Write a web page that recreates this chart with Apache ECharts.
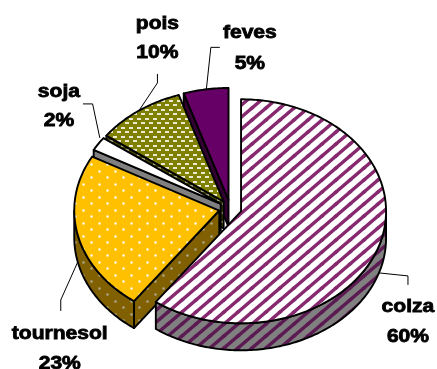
<!DOCTYPE html>
<html>
<head>
<meta charset="utf-8">
<style>html,body{margin:0;padding:0;background:#fff;overflow:hidden}#c{width:437px;height:369px}</style>
<script src="https://cdn.jsdelivr.net/npm/echarts@6/dist/echarts.min.js"></script>
</head>
<body>
<div id="c"></div>
<script>
var categories = ['colza', 'tournesol', 'soja', 'pois', 'feves'];
var values = [60, 23, 2, 10, 5];

// Pie geometry
var C = { x: 230.3, y: 208.6, rx: 145, ry: 112, depth: 27, explode: 0.078 };

// Label layout, relative to each slice's mid-arc anchor
var leaderOffsets = [
  [[0, 0], [29, 3], [29, 12]],
  [[0, 0], [-17, 38], [-17, 49]],
  [[1.5, -6], [-5.7, -40], [-15.4, -40]],
  [[1, -1], [19, -28], [19, -37]],
  [[0.5, 0], [5, -42], [14, -42]]
];
var labelOffsets = [
  [29, 34.4, 64.4],
  [-18, 72, 102],
  [-39.4, -52, -23],
  [19, -87, -58],
  [44, -56.4, -25.6]
];

function tile(w, h, bg, draw) {
  var c = document.createElement('canvas');
  c.width = w; c.height = h;
  var g = c.getContext('2d');
  g.fillStyle = bg; g.fillRect(0, 0, w, h);
  draw(g, w, h);
  return { image: c, repeat: 'repeat' };
}
function stripes(bg, fg) {
  return tile(14, 12, bg, function (g, w, h) {
    g.strokeStyle = fg; g.lineWidth = 3.4; g.lineCap = 'square';
    [[0, 0], [-w, 0], [w, 0], [0, h], [0, -h]].forEach(function (o) {
      g.beginPath(); g.moveTo(o[0], h + o[1]); g.lineTo(w + o[0], o[1]); g.stroke();
    });
  });
}
function dots(bg, fg) {
  return tile(16, 13, bg, function (g) {
    g.fillStyle = fg;
    [[3, 2], [11, 8]].forEach(function (p) {
      g.globalAlpha = 0.3; g.fillRect(p[0] - 1, p[1] - 1, 3, 3);
      g.globalAlpha = 0.9; g.fillRect(p[0], p[1], 1, 1);
      g.globalAlpha = 0.45; g.fillRect(p[0] - 1, p[1], 3, 1); g.fillRect(p[0], p[1] - 1, 1, 3);
    });
  });
}
function dashes(bg, fg) {
  return tile(8, 9, bg, function (g) {
    g.fillStyle = fg;
    g.fillRect(1, 1, 4, 2);
    g.fillRect(5, 5, 3, 2); g.fillRect(0, 5, 1, 2);
  });
}
var topFills = [
  stripes('#ffffff', '#86296f'),
  dots('#ffc000', '#ffffff'),
  '#ffffff',
  dashes('#808000', '#ecebd0'),
  '#660066'
];
var sideFills = [
  stripes('#808080', '#5c1a52'),
  dots('#806000', '#b0ac98'),
  '#808080',
  dashes('#404000', '#a0a080'),
  '#330033'
];

var total = values.reduce(function (a, b) { return a + b; }, 0);
var slices = [];
(function () {
  var acc = 0;
  values.forEach(function (v) {
    var a = acc / total * Math.PI * 2;
    acc += v;
    var b = acc / total * Math.PI * 2;
    var m = (a + b) / 2;
    slices.push({
      a: a, b: b, m: m,
      cx: C.x + C.explode * C.rx * Math.sin(m),
      cy: C.y - C.explode * C.ry * Math.cos(m)
    });
  });
})();
function rim(s, t) { return [s.cx + C.rx * Math.sin(t), s.cy - C.ry * Math.cos(t)]; }
function arc(s, a, b) {
  var n = Math.max(2, Math.ceil(Math.abs(b - a) * 60)), pts = [];
  for (var i = 0; i <= n; i++) pts.push(rim(s, a + (b - a) * i / n));
  return pts;
}
function down(p) { return [p[0], p[1] + C.depth]; }
var EDGE = { stroke: '#000', lineWidth: 1.9, lineJoin: 'round' };
function poly(points, fill, z2) {
  return { type: 'polygon', z2: z2, shape: { points: points },
    style: { fill: fill, stroke: EDGE.stroke, lineWidth: EDGE.lineWidth, lineJoin: EDGE.lineJoin } };
}

function renderSlice(params, api) {
  var i = api.value(0), s = slices[i], kids = [], z = params.dataIndex * 10 + 1;
  var apex = [s.cx, s.cy];
  if (Math.sin(s.a) < -1e-6) {
    var p = rim(s, s.a);
    kids.push(poly([apex, p, down(p), down(apex)], sideFills[i], z));
  }
  if (Math.sin(s.b) > 1e-6) {
    var q = rim(s, s.b);
    kids.push(poly([apex, q, down(q), down(apex)], sideFills[i], z));
  }
  var lo = Math.max(s.a, Math.PI / 2), hi = Math.min(s.b, Math.PI * 1.5);
  if (hi > lo) {
    var top = arc(s, lo, hi);
    kids.push(poly(top.concat(top.slice().reverse().map(down)), sideFills[i], z + 1));
  }
  kids.push(poly([apex].concat(arc(s, s.a, s.b)), topFills[i], z + 2));
  return { type: 'group', children: kids };
}

function renderLabel(params, api) {
  var i = api.value(0), s = slices[i];
  var anchor = rim(s, s.m);
  if (s.m > Math.PI / 2 && s.m < Math.PI * 1.5) anchor = down(anchor);
  var lead = leaderOffsets[i].map(function (o) { return [anchor[0] + o[0], anchor[1] + o[1]]; });
  var l = labelOffsets[i];
  function txt(str, dy) {
    return { type: 'text', x: anchor[0] + l[0], y: anchor[1] + dy, scaleX: 1.17, z2: 200,
      style: { text: str, fill: '#000', stroke: '#000', lineWidth: 0.8,
        font: 'bold 18px "Liberation Sans"', align: 'center', verticalAlign: 'middle' } };
  }
  return { type: 'group', children: [
    { type: 'polyline', z2: 150, shape: { points: lead }, style: { stroke: '#000', lineWidth: 1, fill: 'none' } },
    txt(categories[i], l[1]),
    txt(values[i] + '%', l[2])
  ] };
}

var order = values.map(function (_, i) { return [i]; }).reverse();
var chart = echarts.init(document.getElementById('c'), null, { renderer: 'canvas', width: 437, height: 369 });
chart.setOption({
  backgroundColor: '#ffffff',
  animation: false,
  series: [
    { type: 'custom', coordinateSystem: 'none', data: order, renderItem: renderSlice, silent: true, z: 2 },
    { type: 'custom', coordinateSystem: 'none', data: order, renderItem: renderLabel, silent: true, z: 3 }
  ]
});
</script>
</body>
</html>
